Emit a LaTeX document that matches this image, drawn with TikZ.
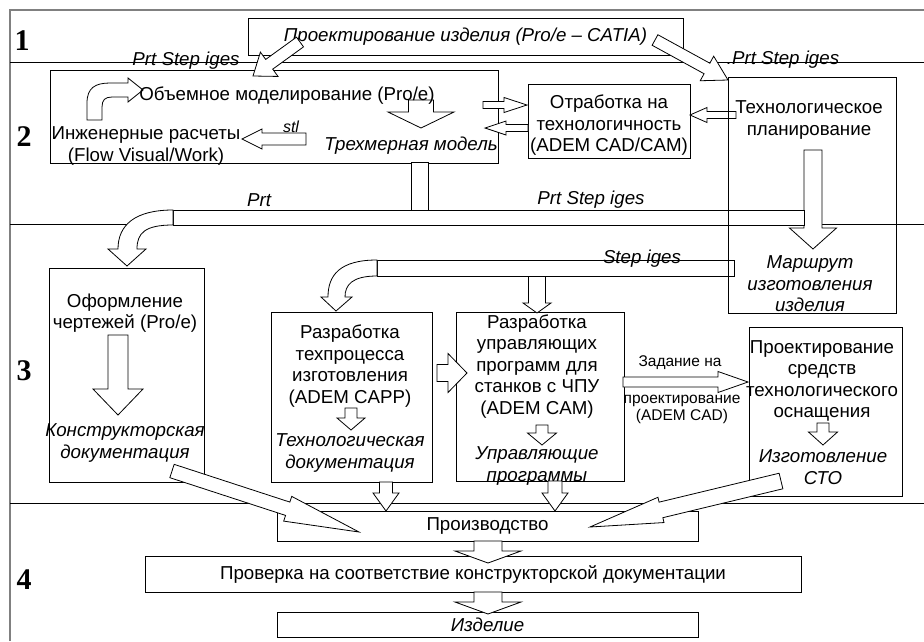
\documentclass[tikz,border=0pt]{standalone}
\usepackage{fontspec}
\setmainfont{Liberation Sans}
\newfontfamily\rowfont{Liberation Serif}
\usetikzlibrary{calc}
\definecolor{framegray}{HTML}{808080}

% Block arrow: tail #1, tip #2, shaft half width #3, head half width #4, head length #5.
\newcommand{\blockarrow}[5]{%
  \coordinate (headbase) at ($(#2)!#5!(#1)$);
  \draw[pipe] ($(#1)!#3!90:(#2)$) -- ($(headbase)!#3!90:(#2)$)
    -- ($(headbase)!#4!90:(#2)$) -- (#2)
    -- ($(headbase)!#4!-90:(#2)$) -- ($(headbase)!#3!-90:(#2)$)
    -- ($(#1)!#3!-90:(#2)$) -- cycle;
}

\begin{document}
\begin{tikzpicture}[
  x=1pt,
  y=-1pt,
  line join=miter,
  box/.style={draw, line width=0.8pt, inner sep=0pt},
  pipe/.style={draw, fill=white, line width=0.8pt},
  rule/.style={draw, line width=0.8pt},
  frame/.style={draw=framegray, line width=1.6pt},
  txt/.style={font=\fontsize{18.7}{21.5}\selectfont, align=center, inner sep=0pt},
  ittxt/.style={txt, font=\fontsize{18.7}{21.5}\selectfont\itshape},
  smalltxt/.style={txt, font=\fontsize{15.5}{17}\selectfont},
  rowno/.style={font=\rowfont\bfseries\fontsize{30}{30}\selectfont, inner sep=0pt}
]
  % Match the artwork frame.
  \useasboundingbox (0,0) rectangle (924,641);

  % Table frame and row rules.
  \draw[frame] (10,641) -- (10,10) -- (924,10);
  \draw[rule] (10,62) -- (924,62);
  \draw[rule] (10,224) -- (924,224);
  \draw[rule] (10,503) -- (924,503);

  % Row numbers.
  \node[rowno] (row1) at (22,41) {1};
  \node[rowno] (row2) at (24,137) {2};
  \node[rowno] (row3) at (24,371) {3};
  \node[rowno] (row4) at (24,580) {4};

  % Boxes.
  \node[box, ittxt, minimum width=435pt, minimum height=37pt] (design) at (465.5,36.5)
    {Проектирование изделия (Pro/e – CATIA)};
  \node[box, minimum width=448pt, minimum height=93pt] (solid) at (274,116.5) {};
  \node[box, minimum width=162pt, minimum height=74pt] (manuf) at (609,121) {};
  \node[box, minimum width=155pt, minimum height=214pt] (drawing) at (126.5,375) {};
  \node[box, minimum width=161pt, minimum height=170pt] (process) at (351.5,397) {};
  \node[box, minimum width=168pt, minimum height=169pt] (nc) at (540,396.5) {};
  \node[box, minimum width=153pt, minimum height=169pt] (tooling) at (825.5,411.5) {};
  \node[box, txt, minimum width=421pt, minimum height=30pt] (production) at (487.5,526)
    {Производство};
  \node[box, txt, minimum width=656pt, minimum height=36pt] (check) at (473,574)
    {Проверка на соответствие конструкторской документации};
  \node[box, ittxt, minimum width=421pt, minimum height=25pt] (product) at (487.5,624.5)
    {Изделие};

  % Arrow ends.
  \coordinate (designL) at (300,42);
  \coordinate (solidtop) at (253,76);
  \coordinate (designR) at (655,40);
  \coordinate (plantop) at (728,80);
  \coordinate (solidout) at (483,105);
  \coordinate (manufin) at (527,105);
  \coordinate (manufout) at (528,128);
  \coordinate (solidin) at (485,128);
  \coordinate (planout) at (736,115);
  \coordinate (manufright) at (690,115);
  \coordinate (stltail) at (306,139);
  \coordinate (stltip) at (242,139);
  \coordinate (modeltail) at (421,100);
  \coordinate (modeltip) at (421,128);
  \coordinate (routetail) at (813,150);
  \coordinate (routetip) at (813,249);
  \coordinate (drawtail) at (118,335);
  \coordinate (drawtip) at (118,415);
  \coordinate (proctail) at (351,408);
  \coordinate (proctip) at (351,430);
  \coordinate (nctail) at (542,425);
  \coordinate (nctip) at (542,445);
  \coordinate (tooltail) at (823,423);
  \coordinate (tooltip) at (823,445);
  \coordinate (steptail) at (537,276);
  \coordinate (steptip) at (537,313);
  \coordinate (procright) at (437,373);
  \coordinate (ncleft) at (467,373);
  \coordinate (ncright) at (623,382);
  \coordinate (toolleft) at (748,382);
  \coordinate (docstail) at (172,471);
  \coordinate (docstip) at (359,532);
  \coordinate (stotail) at (781,481);
  \coordinate (stotip) at (590,527);
  \coordinate (procdown) at (386,482);
  \coordinate (prodleft) at (386,511);
  \coordinate (ncdown) at (555,481);
  \coordinate (prodright) at (555,511);
  \coordinate (prodout) at (488,541);
  \coordinate (checkin) at (488,563);
  \coordinate (checkout) at (488,592);
  \coordinate (productin) at (488,614);

  % Row 2 arrows.
  \blockarrow{designL}{solidtop}{6pt}{15pt}{20pt}
  \blockarrow{designR}{plantop}{6pt}{14pt}{24pt}
  \blockarrow{solidout}{manufin}{3.5pt}{7.5pt}{23pt}
  \blockarrow{manufout}{solidin}{3.5pt}{7pt}{21pt}
  \blockarrow{planout}{manufright}{3.5pt}{7.5pt}{17pt}
  \blockarrow{stltail}{stltip}{6pt}{10pt}{20pt}
  \blockarrow{modeltail}{modeltip}{12.5pt}{33pt}{16pt}
  \draw[pipe] (87,120) -- (87,103) .. controls (87,88) and (95,83) .. (110,83)
    -- (128,83) -- (128,78) -- (143,90) -- (128,102) -- (128,97) -- (112,97)
    .. controls (105,97) and (102,100) .. (102,107) -- (102,120) -- cycle;

  % Data pipes between rows 2 and 3.
  \blockarrow{routetail}{routetip}{9pt}{23.5pt}{21pt}
  \draw[pipe] (173,210) rectangle (804,225);
  \draw[pipe] (411,162) rectangle (428,210);
  \draw[pipe] (173,210) .. controls (135,210) and (118,225) .. (118,249)
    -- (108,249) -- (127,266) -- (146,249) -- (137,249)
    .. controls (137,233) and (145,225) .. (173,225) -- cycle;
  \blockarrow{steptail}{steptip}{8.5pt}{14pt}{10pt}
  \draw[pipe] (377,260) rectangle (734,276);
  \draw[pipe] (377,260) .. controls (340,260) and (328,275) .. (328,297)
    -- (321,297) -- (336,311) -- (352,297) -- (345,297)
    .. controls (345,285) and (352,276) .. (377,276) -- cycle;

  % Row 3 arrows.
  \blockarrow{drawtail}{drawtip}{10pt}{25pt}{26pt}
  \blockarrow{proctail}{proctip}{6pt}{14pt}{12pt}
  \blockarrow{nctail}{nctip}{6pt}{14.5pt}{12pt}
  \blockarrow{tooltail}{tooltip}{6pt}{14.5pt}{13pt}
  \blockarrow{procright}{ncleft}{8.5pt}{19.5pt}{19pt}
  \blockarrow{ncright}{toolleft}{5pt}{10.5pt}{30pt}

  % Row 4 arrows.
  \blockarrow{docstail}{docstip}{7pt}{13pt}{75pt}
  \blockarrow{stotail}{stotip}{8pt}{13pt}{73pt}
  \blockarrow{procdown}{prodleft}{6.5pt}{13pt}{18pt}
  \blockarrow{ncdown}{prodright}{7pt}{13pt}{18pt}
  \blockarrow{prodout}{checkin}{14pt}{33pt}{12pt}
  \blockarrow{checkout}{productin}{14pt}{33pt}{12pt}

  % Planning box stays open over the pipes.
  \node[box, minimum width=168pt, minimum height=236pt] (plan) at (812,195) {};

  % Labels.
  \node[ittxt] (prtleft) at (186,61) {Prt Step iges};
  \node[ittxt] (prtright) at (783,60) {.Prt Step iges};
  \node[txt] (solidtext) at (287,96) {Объемное моделирование (Pro/e)};
  \node[txt] (calctext) at (146,146) {Инженерные расчеты\\(Flow Visual/Work)};
  \node[ittxt, font=\fontsize{16}{18}\selectfont\itshape] (stl) at (291,127) {stl};
  \node[ittxt] (model) at (411,146) {Трехмерная модель};
  \node[txt] (manuftext) at (609,125.5) {Отработка на\\технологичность\\(ADEM CAD/CAM)};
  \node[txt] (plantext) at (809,120) {Технологическое\\планирование};
  \node[ittxt] (route) at (810,284) {Маршрут\\изготовления\\изделия};
  \node[ittxt] (prta) at (259,200) {Prt};
  \node[ittxt] (prtb) at (591,200) {Prt Step iges};
  \node[ittxt] (stepb) at (642,259) {Step iges};
  \node[txt] (drawtext) at (125,313) {Оформление\\чертежей (Pro/e)};
  \node[ittxt] (designdocs) at (125,443) {Конструкторская\\документация};
  \node[txt] (proctext) at (350,366) {Разработка\\техпроцесса\\изготовления\\(ADEM CAPP)};
  \node[ittxt] (techdocs) at (350,453) {Технологическая\\документация};
  \node[txt] (nctext) at (537,366.5) {Разработка\\управляющих\\программ для\\станков с ЧПУ\\(ADEM CAM)};
  \node[ittxt] (ncprog) at (537,466) {Управляющие\\программы};
  \node[smalltxt] (taska) at (680,363) {Задание на};
  \node[smalltxt] (taskb) at (682,409) {проектирование\\(ADEM CAD)};
  \node[txt] (tooltext) at (822,381) {Проектирование\\средств\\технологического\\оснащения};
  \node[ittxt] (sto) at (823,467) {Изготовление\\СТО};
\end{tikzpicture}
\end{document}
